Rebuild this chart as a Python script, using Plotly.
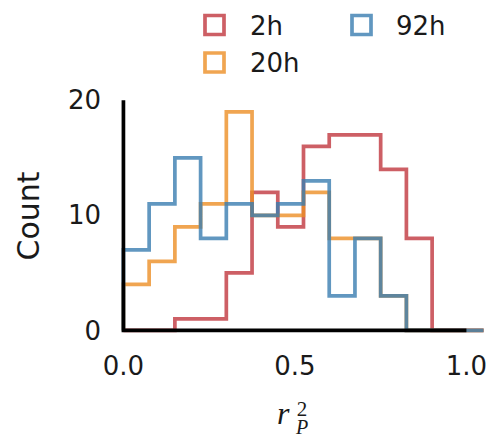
import plotly.graph_objects as go

# ---- data ----
bin_edges = [0.0, 0.075, 0.15, 0.225, 0.3, 0.375, 0.45, 0.525, 0.6, 0.675,
             0.75, 0.825, 0.9, 0.975, 1.05]
counts_2h = [0, 0, 1, 1, 5, 12, 9, 16, 17, 17, 14, 8, 0, 0]
counts_20h = [4, 6, 9, 11, 19, 10, 10, 12, 8, 8, 3, 0, 0, 0]
counts_92h = [7, 11, 15, 8, 11, 10, 11, 13, 3, 8, 3, 0, 0, 0]
series_names = ["2h", "20h", "92h"]
x_tickvals = [0.0, 0.5, 1.0]
x_ticktext = ["0.0", "0.5", "1.0"]
y_tickvals = [0, 10, 20]
y_ticktext = ["0", "10", "20"]

colors = {
    "2h": "rgba(192,55,62,0.8)",
    "20h": "rgba(236,143,37,0.8)",
    "92h": "rgba(58,125,176,0.8)",
}

W, H = 493, 438
L, R, T, B = 120, 6, 98, 103
XR = [-0.01, 1.06]
YR = [-0.4, 20.2]
PW, PH = W - L - R, H - T - B


def px_x(px):
    return (px - L) / PW


def px_y(py):
    return (H - B - py) / PH


def step_xy(edges, counts):
    xs, ys = [edges[0]], [0]
    for i, c in enumerate(counts):
        xs += [edges[i], edges[i + 1]]
        ys += [c, c]
    xs.append(edges[-1])
    ys.append(0)
    return xs, ys


fig = go.Figure()
for name, cnt in zip(series_names, [counts_2h, counts_20h, counts_92h]):
    xs, ys = step_xy(bin_edges, cnt)
    fig.add_trace(go.Scatter(x=xs, y=ys, mode="lines", name=name,
                             line=dict(color=colors[name], width=3.7),
                             showlegend=False, hoverinfo="skip"))

FONT = "DejaVu Sans"
TXT = "#1a1a1a"

shapes = [
    # trimmed spines
    dict(type="path", xref="x", yref="y",
         path=f"M {x_tickvals[0]},{y_tickvals[-1]} L {x_tickvals[0]},{y_tickvals[0]} L {x_tickvals[-1]},{y_tickvals[0]}",
         line=dict(color="black", width=3.7), layer="above"),
]
annotations = []

# manual legend
legend_items = [("2h", 214.5, 25.0, 248), ("20h", 214.5, 62.5, 248), ("92h", 361.5, 25.0, 394)]
for name, cx, cy, tx in legend_items:
    shapes.append(dict(type="rect", xref="paper", yref="paper",
                       x0=px_x(cx - 9.5), x1=px_x(cx + 9.5),
                       y0=px_y(cy + 9.5), y1=px_y(cy - 9.5),
                       line=dict(color=colors[name], width=3.7),
                       fillcolor="rgba(0,0,0,0)"))
    annotations.append(dict(xref="paper", yref="paper", x=px_x(tx), y=px_y(cy + 1),
                            text=name, showarrow=False, xanchor="left", yanchor="middle",
                            font=dict(family=FONT, size=26, color=TXT)))

# y-axis title
annotations.append(dict(xref="paper", yref="paper", x=px_x(27.5), y=px_y(216),
                        text="Count", textangle=-90, showarrow=False,
                        xanchor="center", yanchor="middle",
                        font=dict(family=FONT, size=30, color=TXT)))
# x-axis title r_P^2
MF = "Liberation Serif"
annotations.append(dict(xref="paper", yref="paper", x=px_x(283.5), y=px_y(413),
                        text="<i>r</i>", showarrow=False, xanchor="center", yanchor="middle",
                        font=dict(family=MF, size=32, color=TXT)))
annotations.append(dict(xref="paper", yref="paper", x=px_x(301), y=px_y(417),
                        text="<span style='font-size:21px'>2</span><br>"
                             "<span style='font-size:20px'><i>P</i></span>",
                        showarrow=False, xanchor="center", yanchor="middle", align="center",
                        font=dict(family=MF, size=14, color=TXT)))

fig.update_layout(
    width=W, height=H,
    margin=dict(l=L, r=R, t=T, b=B, pad=0),
    paper_bgcolor="white", plot_bgcolor="white",
    showlegend=False,
    shapes=shapes, annotations=annotations,
    xaxis=dict(range=XR, showgrid=False, zeroline=False, showline=False, ticks="",
               tickvals=x_tickvals, ticktext=x_ticktext, ticklabelstandoff=13,
               tickfont=dict(family=FONT, size=26, color=TXT), fixedrange=True),
    yaxis=dict(range=YR, showgrid=False, zeroline=False, showline=False, ticks="",
               tickvals=y_tickvals, ticktext=y_ticktext, ticklabelstandoff=18,
               tickfont=dict(family=FONT, size=26, color=TXT), fixedrange=True),
)

fig.write_html("out.html", config={"displayModeBar": False},
               post_script="document.body.style.margin='0';document.body.style.overflow='hidden';")
